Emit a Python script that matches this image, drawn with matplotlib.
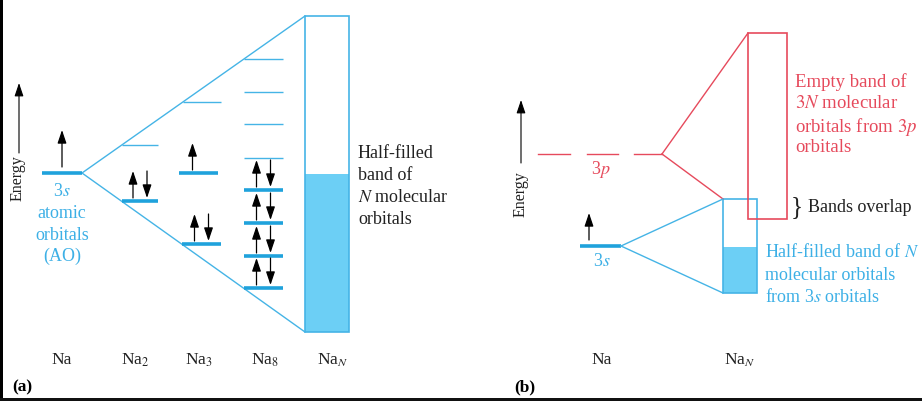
import matplotlib.pyplot as plt
from matplotlib.patches import Rectangle

plt.rcParams['font.family'] = ['Liberation Serif', 'DejaVu Serif']
plt.rcParams['mathtext.fontset'] = 'stix'

BLUE = '#45b4e6'
BLUE_LEVEL = '#1fa2dc'
FILL = '#6ccff5'
RED = '#e64a5c'
TXT_BLUE = '#3db0e6'
INK = '#222222'

# everything is measured in picture pixels (y grows downwards)
# panel (a)
cluster_names = ['Na', 'Na$_2$', 'Na$_3$', 'Na$_8$', 'Na$_N$']
cluster_x = [62, 135, 199, 265, 333]
apex_a = (82, 173)
band_a_x = [305, 349]
band_a_y = [16, 332]
band_a_fill_top = 174

# (x0, x1, y, electrons) ; electrons 0 = empty thin level
na_levels = [(42, 82, 173, 1)]
na2_levels = [(122, 158, 145, 0), (122, 158, 201, 2)]
na3_levels = [(183, 221, 102, 0), (179, 218, 173, 1), (182, 221, 244, 2)]
na8_levels = [(244, 283, 59, 0), (244, 283, 92, 0), (244, 283, 124, 0), (244, 283, 158, 0),
              (244, 283, 190, 2), (244, 283, 223, 2), (244, 283, 256, 2), (244, 283, 288, 2)]

# panel (b)
p3_dashes = [(538, 570), (587, 618), (634, 662)]
p3_y = 154
p_band_x = [748, 787]
p_band_y = [33, 219]
p_lower_tip = (723, 199)
s3_level = (580, 621, 246)
s_band_x = [723, 757]
s_band_y = [199, 293]
s_band_fill_top = 247

fig = plt.figure(figsize=(9.22, 4.01), dpi=100)
ax = fig.add_axes([0, 0, 1, 1])
ax.set_xlim(0, 922)
ax.set_ylim(401, 0)
ax.axis('off')


def arrow(x, y0, y1, color='black', lw=0.9):
    ax.annotate('', xy=(x, y1), xytext=(x, y0),
                arrowprops=dict(arrowstyle='-|>,head_length=0.8,head_width=0.27',
                                color=color, lw=lw, shrinkA=0, shrinkB=0))


def draw_levels(levels, pair_dx=7, length=28):
    for x0, x1, y, e in levels:
        if e == 0:
            ax.plot([x0, x1], [y, y], color=BLUE, lw=1.0, solid_capstyle='butt')
            continue
        ax.plot([x0, x1], [y, y], color=BLUE_LEVEL, lw=2.6, solid_capstyle='butt')
        xc = (x0 + x1) / 2
        if e == 1:
            arrow(xc - 6, y - 3, y - length - 2)
        else:
            arrow(xc - pair_dx, y - 3, y - length - 2)
            arrow(xc + pair_dx, y - length - 2, y - 3)


# ---- panel (a) ----
ax.plot([apex_a[0], band_a_x[0]], [apex_a[1], band_a_y[0]], color=BLUE, lw=1.0)
ax.plot([apex_a[0], band_a_x[0]], [apex_a[1], band_a_y[1]], color=BLUE, lw=1.0)
ax.add_patch(Rectangle((band_a_x[0], band_a_fill_top), band_a_x[1] - band_a_x[0],
                       band_a_y[1] - band_a_fill_top, facecolor=FILL, edgecolor='none'))
ax.add_patch(Rectangle((band_a_x[0], band_a_y[0]), band_a_x[1] - band_a_x[0],
                       band_a_y[1] - band_a_y[0], facecolor='none', edgecolor=BLUE, lw=1.2))

# Na atom
ax.plot([na_levels[0][0], na_levels[0][1]], [173, 173], color=BLUE_LEVEL, lw=2.6,
        solid_capstyle='butt')
arrow(62, 167, 130)
draw_levels(na2_levels)
draw_levels(na3_levels)
draw_levels(na8_levels)

ax.text(62, 191, '3$s$', color=TXT_BLUE, fontsize=13, ha='center', va='center')
for txt, yy in zip(['atomic', 'orbitals', '(AO)'], [213, 235, 256]):
    ax.text(62, yy, txt, color=TXT_BLUE, fontsize=13, ha='center', va='center')

for txt, yy in zip(['Half-filled', 'band of', '$N$ molecular', 'orbitals'], [154, 176, 198, 220]):
    ax.text(358, yy, txt, color=INK, fontsize=13, ha='left', va='center')

for name, xx in zip(cluster_names, cluster_x):
    ax.text(xx, 360, name, color=INK, fontsize=12.5, ha='center', va='center')

arrow(19, 153, 83, lw=0.8)
ax.text(18, 178, 'Energy', rotation=90, fontsize=11.5, ha='center', va='center', color=INK)
ax.text(22, 387, '(a)', fontsize=12.5, fontweight='bold', ha='center', va='center')

# ---- panel (b) ----
for x0, x1 in p3_dashes:
    ax.plot([x0, x1], [p3_y, p3_y], color=RED, lw=1.0)
ax.plot([p3_dashes[-1][1], p_band_x[0]], [p3_y, p_band_y[0]], color=RED, lw=1.0)
ax.plot([p3_dashes[-1][1], p_lower_tip[0]], [p3_y, p_lower_tip[1]], color=RED, lw=1.0)
ax.text(601, 170, '3$p$', color=RED, fontsize=13, ha='center', va='center')

ax.plot([s3_level[0], s3_level[1]], [s3_level[2], s3_level[2]], color=BLUE_LEVEL, lw=2.6,
        solid_capstyle='butt')
arrow(589, 240, 213)
ax.text(602, 261, '3$s$', color=TXT_BLUE, fontsize=13, ha='center', va='center')
ax.plot([s3_level[1], s_band_x[0]], [s3_level[2], s_band_y[0]], color=BLUE, lw=1.0)
ax.plot([s3_level[1], s_band_x[0]], [s3_level[2], s_band_y[1]], color=BLUE, lw=1.0)
ax.add_patch(Rectangle((s_band_x[0], s_band_fill_top), s_band_x[1] - s_band_x[0],
                       s_band_y[1] - s_band_fill_top, facecolor=FILL, edgecolor='none'))
ax.add_patch(Rectangle((s_band_x[0], s_band_y[0]), s_band_x[1] - s_band_x[0],
                       s_band_y[1] - s_band_y[0], facecolor='none', edgecolor=BLUE, lw=1.2))
ax.add_patch(Rectangle((p_band_x[0], p_band_y[0]), p_band_x[1] - p_band_x[0],
                       p_band_y[1] - p_band_y[0], facecolor='none', edgecolor=RED, lw=1.2))

for txt, yy in zip(['Empty band of', '$3N$ molecular', 'orbitals from $3p$', 'orbitals'],
                   [82, 104, 127, 148]):
    ax.text(795, yy, txt, color=RED, fontsize=13.5, ha='left', va='center')

ax.text(797, 207, '}', fontsize=18, ha='center', va='center', color=INK)
ax.text(808, 208, 'Bands overlap', fontsize=13, ha='left', va='center', color=INK)

for txt, yy in zip(['Half-filled band of $N$', 'molecular orbitals', 'from 3$s$ orbitals'],
                   [252, 275, 297]):
    ax.text(765, yy, txt, color=TXT_BLUE, fontsize=13, ha='left', va='center')

ax.text(602, 360, 'Na', color=INK, fontsize=12.5, ha='center', va='center')
ax.text(740, 360, 'Na$_N$', color=INK, fontsize=12.5, ha='center', va='center')

arrow(521, 163, 100, lw=0.8)
ax.text(521, 194, 'Energy', rotation=90, fontsize=11.5, ha='center', va='center', color=INK)
ax.text(525, 387, '(b)', fontsize=12.5, fontweight='bold', ha='center', va='center')

# dark scan edges
ax.add_patch(Rectangle((0, 0), 2.5, 401, facecolor='black', edgecolor='none'))
ax.add_patch(Rectangle((0, 398), 922, 3, facecolor='#111111', edgecolor='none'))

fig.savefig('out.png', dpi=100)
